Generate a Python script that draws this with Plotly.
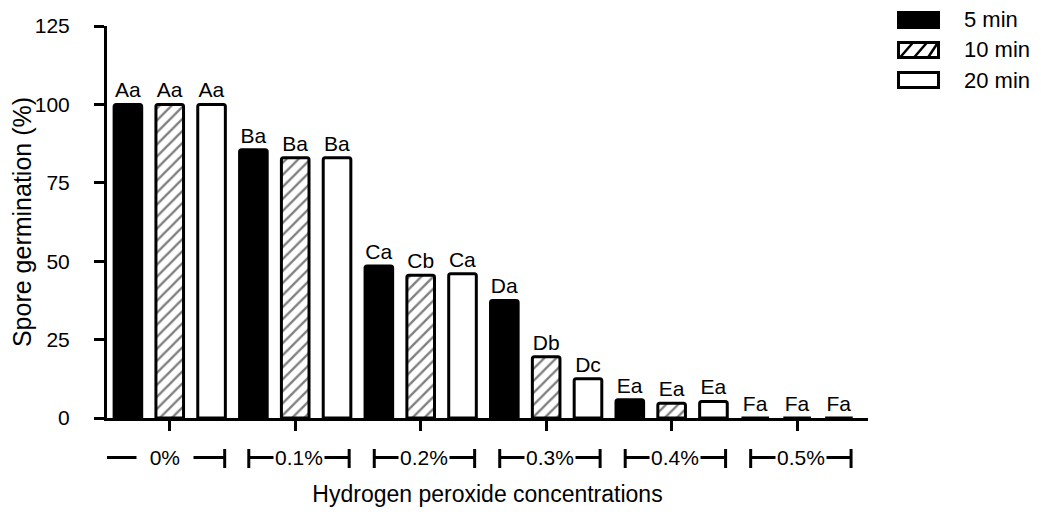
import plotly.graph_objects as go

# ---- data ----
concentrations = ["0%", "0.1%", "0.2%", "0.3%", "0.4%", "0.5%"]
times = ["5 min", "10 min", "20 min"]
germ_5 = [100, 85.5, 48.5, 37.5, 5.8, 0]
germ_10 = [100, 83, 45.5, 19.5, 4.7, 0]
germ_20 = [100, 83, 46, 12.5, 5.3, 0]
letters_5 = ["Aa", "Ba", "Ca", "Da", "Ea", "Fa"]
letters_10 = ["Aa", "Ba", "Cb", "Db", "Ea", "Fa"]
letters_20 = ["Aa", "Ba", "Ca", "Dc", "Ea", "Fa"]
y_ticks = [0, 25, 50, 75, 100, 125]

FONT = "Liberation Sans, Arial, sans-serif"
OFF = 8                      # page body margin of the html page
W, H = 1041 - 2 * OFF, 515 - 2 * OFF
ML, MT = 107 - OFF, 26 - OFF
PR, PB = 868 - OFF, 418 - OFF   # plot right / bottom in figure pixels
MR, MB = W - PR, H - PB
PW, PH = PR - ML, PB - MT


def px_x(p):
    """page pixel -> paper x"""
    return (p - OFF - ML) / PW


def px_y(p):
    """page pixel -> paper y"""
    return (PB - (p - OFF)) / PH


BORDER = dict(color="black", width=3)
HATCH = dict(shape="/", fgcolor="black", bgcolor="white", size=8.5, solidity=0.28)
styles = [
    dict(color="black", line=BORDER),
    dict(color="white", line=BORDER, pattern=HATCH),
    dict(color="white", line=BORDER),
]

fig = go.Figure()
for name, vals, labs, st in zip(times, [germ_5, germ_10, germ_20],
                                [letters_5, letters_10, letters_20], styles):
    fig.add_trace(go.Bar(
        x=concentrations, y=vals, name=name, text=labs,
        textposition="outside", cliponaxis=False, constraintext="none",
        textfont=dict(family=FONT, size=21, color="black"),
        marker=dict(cornerradius=2, **st),
        showlegend=False,
    ))

shapes = []
annotations = []

# group brackets under the axis
yb, yc0, yc1 = px_y(457.5), px_y(449), px_y(468)
for i, lab in enumerate(concentrations):
    hw = 0.478 if i == 0 else 0.40
    c = i - 0.04 if i == 0 else i + 0.03
    x0, x1 = c - hw, c + hw
    ln = dict(color="black", width=3)
    shapes.append(dict(type="line", xref="x", yref="paper", x0=x0, x1=x1, y0=yb, y1=yb, line=ln))
    shapes.append(dict(type="line", xref="x", yref="paper", x0=x0, x1=x0, y0=yc0, y1=yc1, line=ln))
    shapes.append(dict(type="line", xref="x", yref="paper", x0=x1, x1=x1, y0=yc0, y1=yc1, line=ln))
    txt = "\u00a0\u00a0" + lab + "\u00a0\u00a0" if i == 0 else lab
    annotations.append(dict(x=c, y=yb, xref="x", yref="paper", text=txt, showarrow=False,
                            bgcolor="white", borderpad=1,
                            font=dict(family=FONT, size=21, color="black"),
                            xanchor="center", yanchor="middle"))

# legend (drawn to match the large rectangular keys of the original)
leg_x0, leg_x1 = 897, 940
leg_rows = [20, 50, 80]
fills = ["black", "white", "white"]
for k, (name, yc) in enumerate(zip(times, leg_rows)):
    y0, y1 = yc - 7.5, yc + 7.5
    shapes.append(dict(type="rect", xref="paper", yref="paper",
                       x0=px_x(leg_x0 + 1.5), x1=px_x(leg_x1 - 1.5),
                       y0=px_y(y1), y1=px_y(y0),
                       fillcolor=fills[k], line=dict(color="black", width=3)))
    if k == 1:
        for s in range(3):
            xa = leg_x0 + 3 + s * 14
            shapes.append(dict(type="line", xref="paper", yref="paper",
                               x0=px_x(xa), x1=px_x(min(xa + 13, leg_x1 - 2)),
                               y0=px_y(y1), y1=px_y(y0),
                               line=dict(color="black", width=2.5)))
    annotations.append(dict(x=px_x(962), y=px_y(yc), xref="paper", yref="paper",
                            text=name, showarrow=False, xanchor="left", yanchor="middle",
                            font=dict(family=FONT, size=22, color="black")))

fig.update_layout(
    width=W, height=H,
    margin=dict(l=ML, r=MR, t=MT, b=MB, autoexpand=False),
    plot_bgcolor="white", paper_bgcolor="white",
    barmode="group", bargap=0.0, bargroupgap=0.34,
    font=dict(family=FONT, size=21, color="black"),
    shapes=shapes, annotations=annotations,
    showlegend=False,
    xaxis=dict(range=[-0.5, 5.565], showticklabels=False, ticks="outside",
               ticklen=10, tickwidth=3, tickcolor="black", automargin=False,
               showline=True, linecolor="black", linewidth=3, showgrid=False,
               zeroline=False,
               title=dict(text="Hydrogen peroxide concentrations", standoff=58,
                          font=dict(family=FONT, size=23, color="black"))),
    yaxis=dict(range=[0, 125], tickvals=y_ticks, ticks="outside", ticklen=10,
               tickwidth=3, tickcolor="black", showline=True, linecolor="black",
               linewidth=3, showgrid=False, zeroline=False, automargin=False,
               ticklabelstandoff=20,
               tickfont=dict(family=FONT, size=21, color="black"),
               title=dict(text="Spore germination (%)", standoff=6,
                          font=dict(family=FONT, size=25, color="black"))),
)

fig.write_html("out.html")
